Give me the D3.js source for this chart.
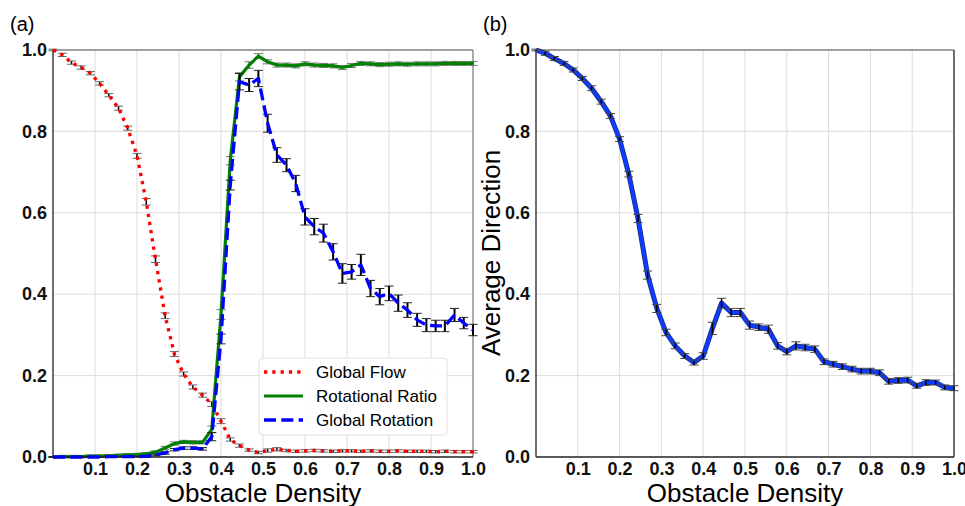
<!DOCTYPE html>
<html>
<head>
<meta charset="utf-8">
<script src="https://cdn.jsdelivr.net/npm/d3@7"></script>
<style>
  body { margin: 0; background: #fff; }
  svg { font-family: "Liberation Sans", Arial, sans-serif; }
</style>
</head>
<body>
<div id="chart"></div>
<script>
// obstacle density (46 samples)
const density = [0, 0.022, 0.044, 0.067, 0.089, 0.111, 0.133, 0.156, 0.178, 0.2,
  0.222, 0.244, 0.267, 0.289, 0.311, 0.333, 0.356, 0.378, 0.4, 0.422,
  0.444, 0.467, 0.489, 0.511, 0.533, 0.556, 0.578, 0.6, 0.622, 0.644,
  0.667, 0.689, 0.711, 0.733, 0.756, 0.778, 0.8, 0.822, 0.844, 0.867,
  0.889, 0.911, 0.933, 0.956, 0.978, 1.0];

// panel (a)
const globalFlow = [1.0, 0.988, 0.969, 0.957, 0.943, 0.918, 0.889, 0.857, 0.808, 0.740,
  0.627, 0.486, 0.347, 0.253, 0.204, 0.172, 0.152, 0.130, 0.088, 0.043,
  0.028, 0.017, 0.011, 0.016, 0.019, 0.016, 0.014, 0.015, 0.016, 0.015,
  0.014, 0.015, 0.015, 0.014, 0.015, 0.014, 0.014, 0.015, 0.014, 0.014,
  0.014, 0.013, 0.014, 0.013, 0.013, 0.013];
const globalFlowErr = [0.002, 0.004, 0.004, 0.004, 0.004, 0.004, 0.004, 0.005, 0.005, 0.006,
  0.008, 0.008, 0.007, 0.006, 0.005, 0.005, 0.005, 0.006, 0.006, 0.004,
  0.004, 0.003, 0.003, 0.004, 0.004, 0.003, 0.003, 0.003, 0.003, 0.003,
  0.003, 0.003, 0.003, 0.003, 0.003, 0.003, 0.003, 0.003, 0.003, 0.003,
  0.003, 0.003, 0.003, 0.003, 0.003, 0.003];

const rotRatio = [0.0, 0.001, 0.001, 0.001, 0.002, 0.002, 0.003, 0.004, 0.005, 0.006,
  0.008, 0.012, 0.022, 0.033, 0.037, 0.036, 0.036, 0.068, 0.35, 0.728,
  0.934, 0.963, 0.985, 0.971, 0.963, 0.963, 0.961, 0.966, 0.963, 0.962,
  0.961, 0.957, 0.962, 0.967, 0.966, 0.964, 0.965, 0.966, 0.965, 0.966,
  0.966, 0.966, 0.967, 0.967, 0.967, 0.967];
const rotRatioErr = [0.001, 0.003, 0.003, 0.003, 0.003, 0.003, 0.003, 0.003, 0.003, 0.003,
  0.003, 0.003, 0.004, 0.004, 0.004, 0.004, 0.004, 0.008, 0.012, 0.01,
  0.01, 0.008, 0.006, 0.005, 0.005, 0.005, 0.005, 0.005, 0.005, 0.005,
  0.005, 0.005, 0.005, 0.005, 0.005, 0.005, 0.005, 0.005, 0.005, 0.005,
  0.005, 0.005, 0.005, 0.005, 0.005, 0.005];

const globalRot = [0.0, 0.0, 0.0, 0.0, 0.0, 0.0, 0.001, 0.001, 0.001, 0.001,
  0.002, 0.005, 0.01, 0.018, 0.022, 0.022, 0.02, 0.05, 0.29, 0.668,
  0.922, 0.914, 0.93, 0.82, 0.742, 0.717, 0.672, 0.59, 0.566, 0.55,
  0.504, 0.451, 0.455, 0.472, 0.414, 0.394, 0.402, 0.378, 0.361, 0.337,
  0.324, 0.322, 0.322, 0.349, 0.329, 0.312];
const globalRotErr = [0.001, 0.001, 0.001, 0.001, 0.001, 0.001, 0.001, 0.001, 0.001, 0.001,
  0.002, 0.002, 0.003, 0.003, 0.003, 0.003, 0.003, 0.01, 0.012, 0.012,
  0.02, 0.016, 0.02, 0.022, 0.018, 0.016, 0.02, 0.02, 0.02, 0.022,
  0.02, 0.024, 0.018, 0.026, 0.02, 0.02, 0.018, 0.02, 0.018, 0.016,
  0.016, 0.014, 0.014, 0.016, 0.014, 0.014];

// panel (b)
const avgDirection = [1.0, 0.992, 0.979, 0.967, 0.951, 0.93, 0.906, 0.873, 0.838, 0.781,
  0.695, 0.586, 0.447, 0.365, 0.306, 0.273, 0.248, 0.232, 0.248, 0.316,
  0.378, 0.355, 0.355, 0.324, 0.319, 0.314, 0.273, 0.259, 0.273, 0.269,
  0.265, 0.234, 0.228, 0.222, 0.216, 0.211, 0.211, 0.207, 0.186, 0.188,
  0.189, 0.175, 0.183, 0.183, 0.171, 0.169];
const avgDirectionErr = [0.002, 0.005, 0.005, 0.005, 0.005, 0.005, 0.006, 0.006, 0.006, 0.006,
  0.007, 0.01, 0.01, 0.01, 0.008, 0.007, 0.006, 0.006, 0.008, 0.015,
  0.012, 0.01, 0.01, 0.01, 0.008, 0.01, 0.008, 0.008, 0.01, 0.008,
  0.008, 0.007, 0.007, 0.007, 0.007, 0.007, 0.007, 0.007, 0.007, 0.007,
  0.007, 0.006, 0.007, 0.006, 0.006, 0.006];

const xTicks = [0.1, 0.2, 0.3, 0.4, 0.5, 0.6, 0.7, 0.8, 0.9, 1.0];
const yTicks = [0.0, 0.2, 0.4, 0.6, 0.8, 1.0];

const legendItems = [
  {label: "Global Flow", color: "#ff0000", width: 3.3, dash: "3.3,5"},
  {label: "Rotational Ratio", color: "#008000", width: 3.2, dash: null},
  {label: "Global Rotation", color: "#0000ff", width: 3.3, dash: "12,5.3"}
];

const W = 965, H = 506;
const svg = d3.select("#chart").append("svg")
  .attr("width", W)
  .attr("height", H);

// 画一个面板（坐标框、网格、刻度）
function makePanel(left, right, top, bottom, tag, tagX) {
  const x = d3.scaleLinear().domain([0, 1]).range([left, right]);
  const y = d3.scaleLinear().domain([0, 1]).range([bottom, top]);
  const g = svg.append("g");

  // grid
  g.selectAll(".vgrid").data(xTicks.slice(0, -1)).enter().append("line")
    .attr("x1", d => x(d)).attr("x2", d => x(d))
    .attr("y1", top).attr("y2", bottom)
    .attr("stroke", "#dcdcdc").attr("stroke-width", 1);
  g.selectAll(".hgrid").data(yTicks.slice(1, -1)).enter().append("line")
    .attr("x1", left).attr("x2", right)
    .attr("y1", d => y(d)).attr("y2", d => y(d))
    .attr("stroke", "#dcdcdc").attr("stroke-width", 1);

  // axes (no tick marks)
  const xAxis = g.append("g")
    .attr("transform", `translate(0,${bottom})`)
    .call(d3.axisBottom(x).tickValues(xTicks).tickSize(0).tickPadding(5).tickFormat(d3.format(".1f")));
  const yAxis = g.append("g")
    .attr("transform", `translate(${left},0)`)
    .call(d3.axisLeft(y).tickValues(yTicks).tickSize(0).tickPadding(6).tickFormat(d3.format(".1f")));
  [xAxis, yAxis].forEach(a => {
    a.select(".domain").remove();
    a.selectAll("text")
      .style("font-size", "18px")
      .style("font-weight", "bold")
      .style("font-family", "'Liberation Sans', Arial, sans-serif")
      .attr("fill", "#111");
  });

  // frame
  g.append("line").attr("x1", left).attr("x2", right).attr("y1", top).attr("y2", top)
    .attr("stroke", "#808080").attr("stroke-width", 1.3);
  g.append("line").attr("x1", right).attr("x2", right).attr("y1", top).attr("y2", bottom)
    .attr("stroke", tag === "(b)" ? "#222" : "#808080").attr("stroke-width", 1.3);
  g.append("line").attr("x1", left).attr("x2", left).attr("y1", top).attr("y2", bottom)
    .attr("stroke", "#222").attr("stroke-width", 1.3);
  g.append("line").attr("x1", left).attr("x2", right).attr("y1", bottom).attr("y2", bottom)
    .attr("stroke", "#222").attr("stroke-width", 1.3);

  // x label
  svg.append("text")
    .attr("x", (left + right) / 2).attr("y", 502)
    .attr("text-anchor", "middle")
    .style("font-size", "26px")
    .text("Obstacle Density");

  svg.append("text")
    .attr("x", tagX).attr("y", 31)
    .style("font-size", "20px")
    .text(tag);

  return {x, y, g};
}

function errorBars(p, vals, errs, opts) {
  const cap = opts.cap || 4;
  const eg = p.g.append("g");
  density.forEach((d, i) => {
    const cx = p.x(d);
    const y0 = p.y(vals[i] - errs[i]), y1 = p.y(vals[i] + errs[i]);
    eg.append("line").attr("x1", cx).attr("x2", cx).attr("y1", y0).attr("y2", y1)
      .attr("stroke", "#000").attr("stroke-width", opts.w || 1.5);
    [y0, y1].forEach(yy => {
      eg.append("line").attr("x1", cx - cap).attr("x2", cx + cap).attr("y1", yy).attr("y2", yy)
        .attr("stroke", opts.capColor || "#333").attr("stroke-width", 1);
    });
  });
}

function seriesLine(p, vals, color, width, dash) {
  const line = d3.line().x((d, i) => p.x(density[i])).y(d => p.y(d));
  const path = p.g.append("path").datum(vals)
    .attr("d", line)
    .attr("fill", "none")
    .attr("stroke", color)
    .attr("stroke-width", width)
    .attr("stroke-linejoin", "round");
  if (dash) path.attr("stroke-dasharray", dash);
  return path;
}

// ---- panel (a)
const pa = makePanel(53, 473, 50, 457, "(a)", 10);
errorBars(pa, globalFlow, globalFlowErr, {cap: 4.5, capColor: "#666", w: 1.5});
seriesLine(pa, globalFlow, "#ff0000", 3.3, "3.3,5");
errorBars(pa, rotRatio, rotRatioErr, {cap: 4.5, capColor: "#777", w: 1});
seriesLine(pa, rotRatio, "#008000", 3.2, null);
errorBars(pa, globalRot, globalRotErr, {cap: 4.5, capColor: "#222", w: 2});
seriesLine(pa, globalRot, "#0000ff", 3.3, "12,5.3");

// legend
const lg = svg.append("g").attr("transform", "translate(259,358)");
lg.append("rect")
  .attr("width", 188).attr("height", 77).attr("rx", 4)
  .attr("fill", "#fff").attr("fill-opacity", 0.85)
  .attr("stroke", "#e0e0e0");
legendItems.forEach((d, i) => {
  const yy = 14 + i * 24;
  const l = lg.append("line")
    .attr("x1", 5).attr("x2", 44).attr("y1", yy).attr("y2", yy)
    .attr("stroke", d.color).attr("stroke-width", d.width);
  if (d.dash) l.attr("stroke-dasharray", d.dash);
  lg.append("text")
    .attr("x", 57).attr("y", yy)
    .attr("dy", "0.35em")
    .style("font-size", "17px")
    .text(d.label);
});

// ---- panel (b)
const pb = makePanel(536, 954, 50, 457, "(b)", 483);
seriesLine(pb, avgDirection, "#1b2a80", 5, null);
seriesLine(pb, avgDirection, "#0d3bff", 3.6, null);
errorBars(pb, avgDirection, avgDirectionErr, {cap: 4.5, capColor: "#444", w: 1.5});

svg.append("text")
  .attr("transform", "translate(500,253) rotate(-90)")
  .attr("text-anchor", "middle")
  .style("font-size", "26px")
  .text("Average Direction");
</script>
</body>
</html>
